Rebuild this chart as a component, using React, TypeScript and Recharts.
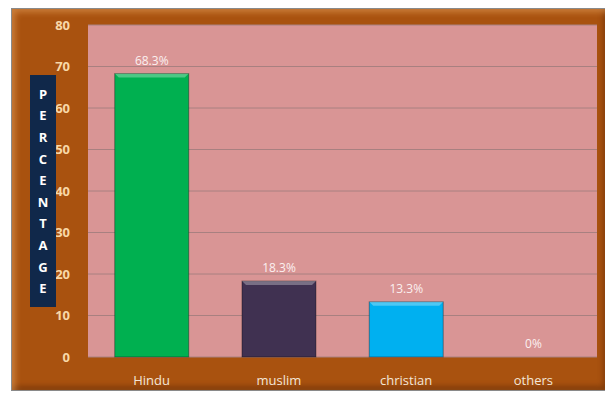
import React from "react";
import { BarChart, Bar, XAxis, YAxis, CartesianGrid, Cell, LabelList } from "recharts";

const religions = ["Hindu", "muslim", "christian", "others"];
const percentages = [68.3, 18.3, 13.3, 0];
const barColors = ["#00b050", "#403151", "#00b0f0", "#c0c0c0"];
const yTicks = [0, 10, 20, 30, 40, 50, 60, 70, 80];
const axisTitle = "PERCENTAGE";

const data = religions.map((name, i) => ({ name, value: percentages[i] }));

const BevelBar = (props: any) => {
  const { x, y, width, height, fill } = props;
  if (!height || height <= 0) return null;
  const b = Math.min(4, height / 2);
  return (
    <g>
      <rect x={x} y={y} width={width} height={height} fill={fill} stroke="rgba(0,0,0,0.35)" strokeWidth={1} />
      <polygon
        points={`${x},${y} ${x + width},${y} ${x + width - b},${y + b} ${x + b},${y + b}`}
        fill="rgba(255,255,255,0.3)"
      />
    </g>
  );
};

export default function App() {
  return (
    <div
      style={{
        position: "relative",
        marginLeft: 3,
        width: 597,
        height: 383,
        background: "#a9520f",
        boxShadow: "inset 3px 3px 6px rgba(255,190,120,0.45), inset -3px -3px 6px rgba(60,20,0,0.45)",
        border: "1px solid #8a8a8a",
        boxSizing: "border-box",
        fontFamily: "'Open Sans', sans-serif",
      }}
    >
      <BarChart
        width={595}
        height={381}
        data={data}
        margin={{ top: 16, right: 10, bottom: 0, left: 0 }}
        barCategoryGap="21%"
      >
        <CartesianGrid vertical={false} stroke="#a88080" fill="#d99595" strokeWidth={1} />
        <XAxis
          dataKey="name"
          axisLine={false}
          tickLine={false}
          height={33}
          tickMargin={13}
          tick={{ fill: "#f3e6d8", fontSize: 13 }}
        />
        <YAxis
          domain={[0, 80]}
          ticks={yTicks}
          width={76}
          axisLine={false}
          tickLine={false}
          tickMargin={12}
          tick={{ fill: "#f8d8a8", fontSize: 13, fontWeight: 700 }}
        />
        <Bar dataKey="value" isAnimationActive={false} shape={<BevelBar />}>
          {data.map((d, i) => (
            <Cell key={d.name} fill={barColors[i]} />
          ))}
          <LabelList
            dataKey="value"
            position="top"
            offset={9}
            formatter={(v: any) => `${v}%`}
            style={{ fill: "#fbf0f0", fontSize: 12 }}
          />
        </Bar>
      </BarChart>
      <div
        style={{
          position: "absolute",
          left: 18,
          top: 66,
          width: 26,
          height: 232,
          background: "#10284a",
          color: "#ffffff",
          fontWeight: 700,
          fontSize: 13,
          display: "flex",
          flexDirection: "column",
          alignItems: "center",
          justifyContent: "space-evenly",
          paddingTop: 4,
          paddingBottom: 4,
          boxSizing: "border-box",
        }}
      >
        {axisTitle.split("").map((ch, i) => (
          <span key={i} style={{ lineHeight: "14px" }}>
            {ch}
          </span>
        ))}
      </div>
    </div>
  );
}
